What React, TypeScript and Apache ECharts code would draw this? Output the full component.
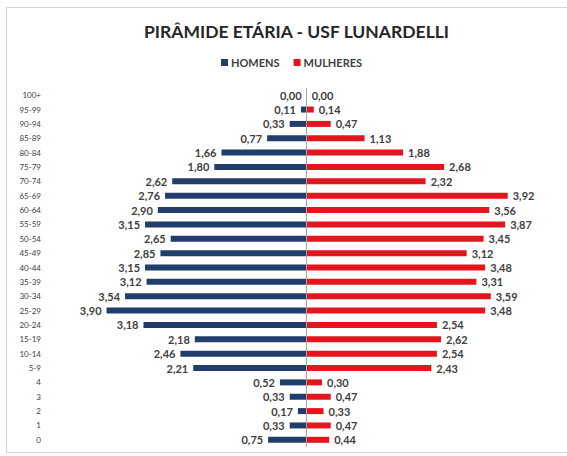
import React, { useEffect, useRef } from "react";
import * as echarts from "echarts";

const categories = [
  "100+", "95-99", "90-94", "85-89", "80-84", "75-79", "70-74", "65-69",
  "60-64", "55-59", "50-54", "45-49", "40-44", "35-39", "30-34", "25-29",
  "20-24", "15-19", "10-14", "5-9", "4", "3", "2", "1", "0",
];
const homens = [
  0.0, 0.11, 0.33, 0.77, 1.66, 1.8, 2.62, 2.76, 2.9, 3.15, 2.65, 2.85, 3.15,
  3.12, 3.54, 3.9, 3.18, 2.18, 2.46, 2.21, 0.52, 0.33, 0.17, 0.33, 0.75,
];
const mulheres = [
  0.0, 0.14, 0.47, 1.13, 1.88, 2.68, 2.32, 3.92, 3.56, 3.87, 3.45, 3.12, 3.48,
  3.31, 3.59, 3.48, 2.54, 2.62, 2.54, 2.43, 0.3, 0.47, 0.33, 0.47, 0.44,
];

const BLUE = "#203d6b";
const RED = "#e3161e";
const FONT = "Lato";

const fmt = (v: number) => Math.abs(v).toFixed(2).replace(".", ",");

export default function App() {
  const ref = useRef<HTMLDivElement>(null);
  useEffect(() => {
    if (!ref.current) return;
    const chart = echarts.init(ref.current, undefined, { renderer: "svg" });
    const labelStyle = {
      show: true,
      fontFamily: FONT,
      fontWeight: "bold" as const,
      fontSize: 11,
      color: "#404040",
      distance: 5,
    };
    chart.setOption({
      animation: false,
      backgroundColor: "#ffffff",
      title: {
        text: "PIRÂMIDE ETÁRIA - USF LUNARDELLI",
        left: 291.5,
        textAlign: "center",
        top: 17,
        textStyle: {
          fontFamily: FONT,
          fontWeight: "bold",
          fontSize: 17.5,
          color: "#262626",
        },
      },
      legend: {
        data: ["HOMENS", "MULHERES"],
        left: 216,
        top: 52,
        icon: "rect",
        itemWidth: 7,
        itemHeight: 7,
        itemGap: 14,
        textStyle: {
          fontFamily: FONT,
          fontWeight: "bold",
          fontSize: 11,
          color: "#404040",
          padding: [0, 0, 0, -2],
        },
      },
      graphic: [
        {
          type: "rect",
          shape: { x: 6.5, y: 7.5, width: 580, height: 445 },
          style: { fill: "none", stroke: "#d4d4d4", lineWidth: 1.2 },
          silent: true,
        },
      ],
      grid: { left: 45, right: 9, top: 88, bottom: 9, containLabel: false },
      xAxis: {
        type: "value",
        min: -5.1,
        max: 4.9,
        show: false,
        splitLine: { show: false },
      },
      yAxis: {
        type: "category",
        data: categories,
        inverse: true,
        position: "left",
        axisLine: { show: false, onZero: false },
        axisTick: { show: false },
        axisLabel: {
          fontFamily: FONT,
          fontSize: 8,
          color: "#404040",
          margin: 4,
        },
      },
      series: [
        {
          name: "HOMENS",
          type: "bar",
          stack: "total",
          data: homens.map((v) => -v),
          barWidth: 6,
          itemStyle: { color: BLUE },
          label: {
            ...labelStyle,
            position: "left",
            formatter: (p: any) => fmt(p.value),
          },
          markLine: {
            silent: true,
            symbol: "none",
            label: { show: false },
            lineStyle: { color: "#a6a6a6", type: "solid", width: 1 },
            data: [{ xAxis: 0 }],
          },
        },
        {
          name: "MULHERES",
          type: "bar",
          stack: "total",
          data: mulheres,
          barWidth: 6,
          itemStyle: { color: RED },
          label: {
            ...labelStyle,
            position: "right",
            formatter: (p: any) => fmt(p.value),
          },
        },
      ],
    });
    return () => chart.dispose();
  }, []);
  return (
    <div
      ref={ref}
      style={{ position: "fixed", left: 0, top: 0, width: 567, height: 456 }}
    />
  );
}
